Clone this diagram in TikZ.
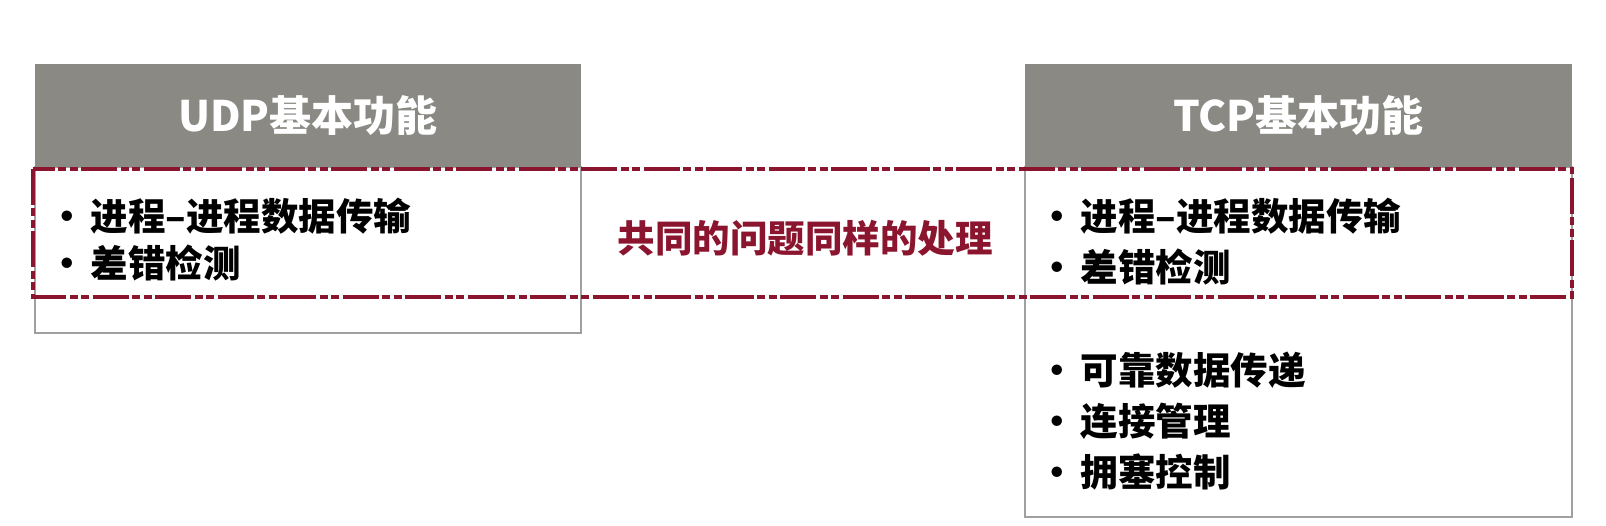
\documentclass[tikz,border=0pt]{standalone}
\usepackage{fontspec}
\newfontfamily\cjk{Noto Sans CJK SC}
\usetikzlibrary{positioning}
\definecolor{hdrgray}{RGB}{138,137,131}
\definecolor{boxgray}{RGB}{160,160,160}
\definecolor{darkred}{RGB}{139,21,46}

\begin{document}
\begin{tikzpicture}[x=1pt,y=-1pt,
	header/.style={fill=hdrgray, draw=none, text=white, minimum width=546pt, minimum height=103pt, inner sep=0, font=\cjk\bfseries\fontsize{42}{42}\selectfont},
	body/.style={draw=boxgray, line width=1.5pt, fill=white},
	item/.style={anchor=west, inner sep=0, font=\cjk\bfseries\fontsize{37.5}{37.5}\selectfont},
	common/.style={darkred, line width=3.5pt, dash pattern=on 36pt off 3.5pt on 8pt off 3.5pt on 8pt off 3.5pt}]
	\useasboundingbox (0,0) rectangle (1606,526);

	% UDP
	\draw[body] (35,167) rectangle (581,333);
	\node[header] (udphdr) at (308,115.5) {UDP基本功能};

	% TCP
	\draw[body] (1025,167) rectangle (1572,517);
	\node[header, minimum width=547pt] (tcphdr) at (1298.5,115.5) {TCP基本功能};

	% shared part
	\draw[common] (33,169) rectangle (1572,297);
	\node[darkred, inner sep=0, font=\cjk\bfseries\fontsize{37.5}{37.5}\selectfont] (same) at (805,238) {共同的问题同样的处理};

	\node[item] (u1) at (48,216) {\textbullet\hspace{5pt}进程–进程数据传输};
	\node[item] (u2) at (48,263) {\textbullet\hspace{5pt}差错检测};

	\node[item] (t1) at (1038,216) {\textbullet\hspace{5pt}进程–进程数据传输};
	\node[item] (t2) at (1038,267) {\textbullet\hspace{5pt}差错检测};
	\node[item] (t3) at (1038,370) {\textbullet\hspace{5pt}可靠数据传递};
	\node[item] (t4) at (1038,421) {\textbullet\hspace{5pt}连接管理};
	\node[item] (t5) at (1038,472) {\textbullet\hspace{5pt}拥塞控制};
\end{tikzpicture}
\end{document}
